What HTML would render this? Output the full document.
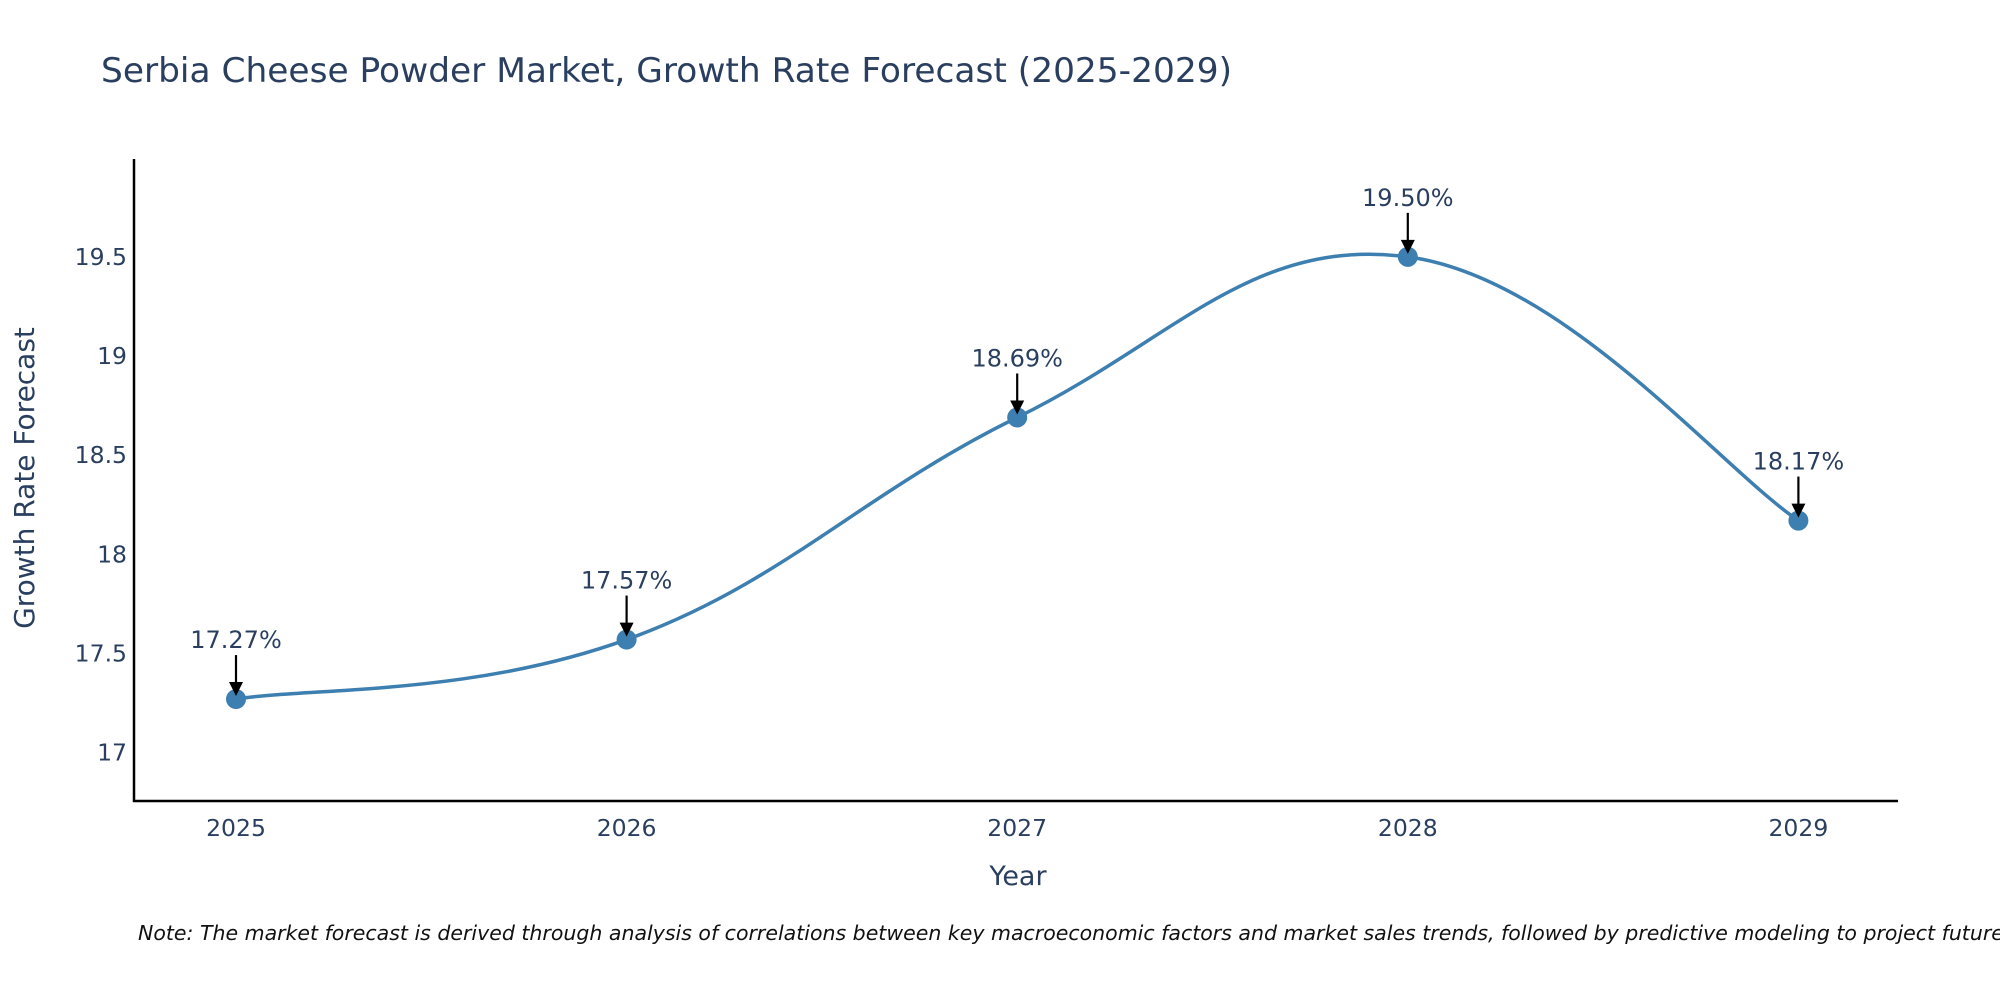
<!DOCTYPE html>
<html><head><meta charset="utf-8"><style>
body{margin:0;background:#fff;overflow:hidden;}
svg{display:block;font-family:"DejaVu Sans","Liberation Sans",sans-serif;}
</style></head><body>
<svg id="chart" width="2000" height="1000" viewBox="0 0 2000 1000">
<text x="101" y="82" font-size="34" fill="#2a3f5f" textLength="1131" lengthAdjust="spacingAndGlyphs">Serbia Cheese Powder Market, Growth Rate Forecast (2025-2029)</text>
<g id="yticks"></g>
<g id="xticks"></g>
<line x1="134" y1="159" x2="134" y2="802" stroke="#000" stroke-width="2.5"/>
<line x1="133" y1="801" x2="1898" y2="801" stroke="#000" stroke-width="2.5"/>
<path id="line" fill="none" stroke="#3d7fb0" stroke-width="3.5"/>
<g id="marks"></g>
<text x="1018" y="885" font-size="27" fill="#2a3f5f" text-anchor="middle">Year</text>
<text transform="translate(34,478) rotate(-90)" font-size="28" fill="#2a3f5f" text-anchor="middle">Growth Rate Forecast</text>
<text x="138" y="940" font-size="20.5" font-style="italic" fill="#111">Note: The market forecast is derived through analysis of correlations between key macroeconomic factors and market sales trends, followed by predictive modeling to project future sales</text>
</svg>
<script>
const years = [2025, 2026, 2027, 2028, 2029];
const values = [17.27, 17.57, 18.69, 19.50, 18.17];
const labels = ["17.27%", "17.57%", "18.69%", "19.50%", "18.17%"];
const yTickVals = [17, 17.5, 18, 18.5, 19, 19.5];
const yTickLabels = ["17", "17.5", "18", "18.5", "19", "19.5"];

const NS = "http://www.w3.org/2000/svg";
function xs(yr){ return 236 + (yr - 2025) * 390.6; }
function ys(v){ return 752.6 - (v - 17) * 198.3; }
function mk(tag, attrs, parent){ const e = document.createElementNS(NS, tag); for (const k in attrs) e.setAttribute(k, attrs[k]); parent.appendChild(e); return e; }

const yt = document.getElementById('yticks');
yTickVals.forEach((v, i) => {
  const t = mk('text', {x: 127, y: ys(v) + 8, 'font-size': 23.5, fill: '#2a3f5f', 'text-anchor': 'end'}, yt);
  t.textContent = yTickLabels[i];
  
  
});
const xt = document.getElementById('xticks');
years.forEach(yr => {
  const t = mk('text', {x: xs(yr), y: 836, 'font-size': 23.5, fill: '#2a3f5f', 'text-anchor': 'middle'}, xt);
  t.textContent = String(yr);
  
  
});

const pts = years.map((yr, i) => [xs(yr), ys(values[i])]);
let d = `M${pts[0][0]},${pts[0][1]}`;
const tension = 0.2;
for (let i = 0; i < pts.length - 1; i++) {
  const p0 = pts[i-1] || pts[i], p1 = pts[i], p2 = pts[i+1], p3 = pts[i+2] || p2;
  const c1 = [p1[0] + (p2[0]-p0[0])*tension, p1[1] + (p2[1]-p0[1])*tension];
  const c2 = [p2[0] - (p3[0]-p1[0])*tension, p2[1] - (p3[1]-p1[1])*tension];
  d += ` C${c1[0]},${c1[1]} ${c2[0]},${c2[1]} ${p2[0]},${p2[1]}`;
}
document.getElementById('line').setAttribute('d', d);

const g = document.getElementById('marks');
pts.forEach((p, i) => {
  const c = mk('circle', {cx: p[0], cy: p[1], r: 10, fill: '#3d7fb0'}, g);
  
  
  const l = mk('line', {x1: p[0], y1: p[1] - 44, x2: p[0], y2: p[1] - 14, stroke: '#000', 'stroke-width': 2.2}, g);
  
  
  const a = mk('polygon', {points: `${p[0]-7},${p[1]-17} ${p[0]+7},${p[1]-17} ${p[0]},${p[1]-3}`, fill: '#000'}, g);
  
  
  const t = mk('text', {x: p[0], y: p[1] - 51, 'font-size': 24, fill: '#2a3f5f', 'text-anchor': 'middle'}, g);
  t.textContent = labels[i];
  
  
});
</script>
</body></html>
